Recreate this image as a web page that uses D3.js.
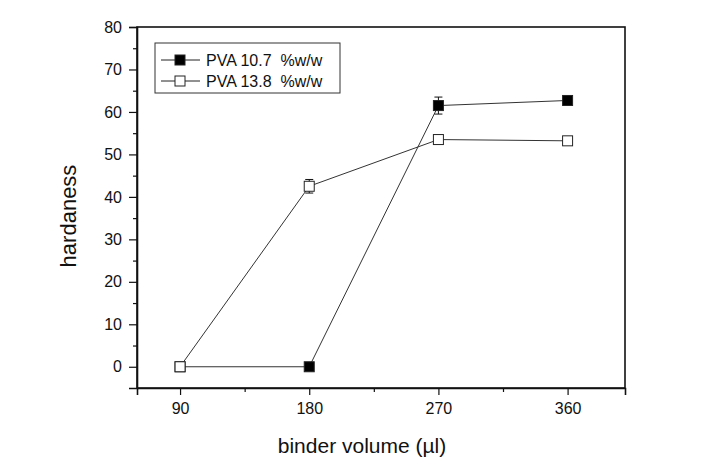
<!DOCTYPE html>
<html>
<head>
<meta charset="utf-8">
<script src="https://cdn.jsdelivr.net/npm/d3@7"></script>
<style>
  body { margin: 0; background: #fff; }
  text { font-family: "Liberation Sans", Arial, sans-serif; fill: #111; }
</style>
</head>
<body>
<svg id="chart" width="707" height="465"></svg>
<script>
// data
const volumes = [90, 180, 270, 360];
const pva107 = [0, 0, 61.5, 62.7];
const pva107Err = [0, 0, 2.0, 0.6];
const pva138 = [0, 42.5, 53.5, 53.2];
const pva138Err = [0, 1.6, 0.6, 0.4];
const seriesNames = ["PVA 10.7  %w/w", "PVA 13.8  %w/w"];
const xTicks = [90, 180, 270, 360];
const yTicks = [0, 10, 20, 30, 40, 50, 60, 70, 80];

const svg = d3.select("#chart");
const margin = { left: 137, right: 82, top: 27, bottom: 77 };
const W = 707 - margin.left - margin.right;
const H = 465 - margin.top - margin.bottom;

const x = d3.scaleLinear().domain([60, 400]).range([0, W]);
const y = d3.scaleLinear().domain([-5, 80]).range([H, 0]);

const g = svg.append("g").attr("transform", `translate(${margin.left},${margin.top})`);

// frame
g.append("rect")
  .attr("width", W).attr("height", H)
  .attr("fill", "none").attr("stroke", "#111").attr("stroke-width", 1.6);

// axes
g.append("g").attr("transform", `translate(0,${H})`)
  .call(d3.axisBottom(x).tickValues(xTicks).tickSize(7).tickPadding(8));
g.append("g").attr("transform", `translate(0,${H})`)
  .call(d3.axisBottom(x).tickValues([135, 225, 315]).tickSize(4).tickFormat(""))
  .call(a => a.select(".domain").remove());

g.append("g")
  .call(d3.axisLeft(y).tickValues(yTicks).tickSize(8).tickPadding(7));
g.append("g")
  .call(d3.axisLeft(y).tickValues(d3.range(5, 80, 10)).tickSize(4).tickFormat(""))
  .call(a => a.select(".domain").remove());

svg.selectAll(".domain").attr("stroke", "#111").attr("stroke-width", 1.6);
svg.selectAll(".tick line").attr("stroke", "#111").attr("stroke-width", 1.2);
svg.selectAll(".tick text")
  .attr("font-size", 16).attr("font-family", "Liberation Sans, Arial, sans-serif")
  .attr("fill", "#111");

// titles
svg.append("text")
  .attr("x", 362).attr("y", 453)
  .attr("text-anchor", "middle").attr("font-size", 21)
  .text("binder volume (\u00b5l)");
svg.append("text")
  .attr("transform", "translate(76,216) rotate(-90)")
  .attr("text-anchor", "middle").attr("font-size", 22)
  .text("hardaness");

// series
const series = [
  { values: pva107, err: pva107Err, fill: "#000" },
  { values: pva138, err: pva138Err, fill: "#fff" }
];
const line = d3.line().x((d, i) => x(volumes[i])).y(d => y(d));
const S = 10;

series.forEach(s => {
  g.append("path").datum(s.values)
    .attr("d", line).attr("fill", "none")
    .attr("stroke", "#333").attr("stroke-width", 1);
  s.values.forEach((v, i) => {
    if (s.err[i] > 0) {
      const cx = x(volumes[i]);
      g.append("line").attr("x1", cx).attr("x2", cx)
        .attr("y1", y(v + s.err[i])).attr("y2", y(v - s.err[i]))
        .attr("stroke", "#111").attr("stroke-width", 1);
      [v + s.err[i], v - s.err[i]].forEach(e => {
        g.append("line").attr("x1", cx - 4).attr("x2", cx + 4)
          .attr("y1", y(e)).attr("y2", y(e))
          .attr("stroke", "#111").attr("stroke-width", 1);
      });
    }
  });
});
series.forEach(s => {
  g.selectAll(null).data(s.values).join("rect")
    .attr("x", (d, i) => x(volumes[i]) - S / 2)
    .attr("y", d => y(d) - S / 2)
    .attr("width", S).attr("height", S)
    .attr("fill", s.fill).attr("stroke", "#222").attr("stroke-width", 1);
});

// legend
const lg = svg.append("g").attr("transform", "translate(155,43)");
lg.append("rect").attr("width", 185).attr("height", 50)
  .attr("fill", "#fff").attr("stroke", "#333").attr("stroke-width", 1);
seriesNames.forEach((name, i) => {
  const row = lg.append("g").attr("transform", `translate(0,${17 + i * 21})`);
  row.append("line").attr("x1", 6).attr("x2", 45)
    .attr("stroke", "#222").attr("stroke-width", 1);
  row.append("rect").attr("x", 25 - S / 2).attr("y", -S / 2)
    .attr("width", S).attr("height", S)
    .attr("fill", series[i].fill).attr("stroke", "#222");
  row.append("text").attr("x", 51).attr("y", 6)
    .attr("font-size", 16).style("white-space", "pre")
    .text(name);
});
</script>
</body>
</html>
